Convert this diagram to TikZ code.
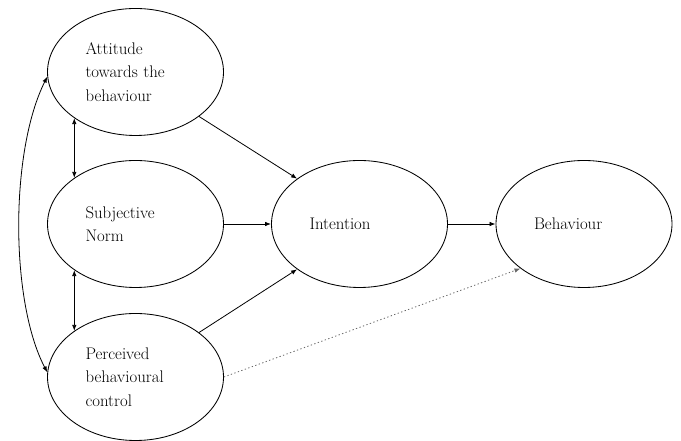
\documentclass[tikz,border=0pt]{standalone}
\usepackage{fontspec}
\usetikzlibrary{shapes.geometric,arrows.meta}
\begin{document}
\begin{tikzpicture}[x=1pt,y=1pt,line width=0.8pt,
  every node/.style={font=\fontsize{16.8}{23.5}\selectfont},
  construct/.style={draw,ellipse,line width=0.85pt,inner sep=0pt,minimum width=176pt,minimum height=127pt,text width=100pt,align=left},
  tip/.style={-{Latex[length=6pt,width=4.5pt]}},
  bitip/.style={{Latex[length=6pt,width=4.5pt]}-{Latex[length=6pt,width=4.5pt]}}]
  \useasboundingbox (0,0) rectangle (681,441);
  \node[construct] (att) at (135.5,369) {Attitude\\towards the\\behaviour};
  \node[construct] (sub) at (135.5,217) {Subjective\\Norm};
  \node[construct] (per) at (135.5,64) {Perceived\\behavioural\\control};
  \node[construct] (int) at (359.5,217) {Intention};
  \node[construct] (beh) at (584,217) {Behaviour};
  \draw[tip] (att.325) -- (int.144);
  \draw[tip] (sub) -- (int);
  \draw[tip] (per.35) -- (int.216);
  \draw[tip] (int) -- (beh);
  \draw[tip,black!60,dash pattern=on 1.3pt off 2.4pt] (per.east) -- (beh.215);
  \draw[bitip] (att.217) -- (sub.143);
  \draw[bitip] (sub.217) -- (per.143);
  \draw[bitip] (att.183) .. controls (10,290) and (10,140) .. (per.177);
\end{tikzpicture}
\end{document}
